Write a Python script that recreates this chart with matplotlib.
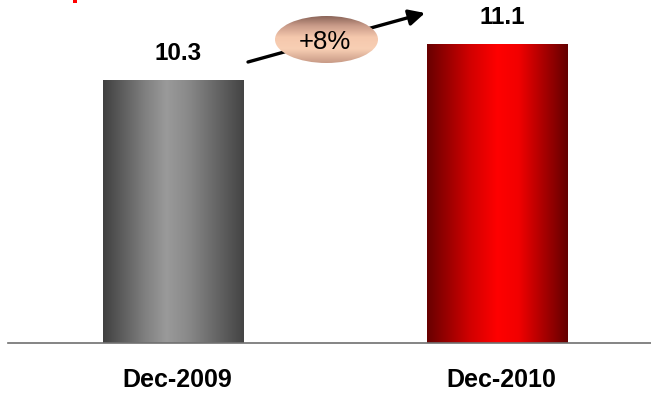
import numpy as np
import matplotlib
matplotlib.use("Agg")
import matplotlib.pyplot as plt
from matplotlib.colors import LinearSegmentedColormap
from matplotlib.patches import Ellipse, Rectangle

# ---- data ----
categories = ["Dec-2009", "Dec-2010"]
values = [10.3, 11.1]
value_labels = ["10.3", "11.1"]
growth_label = "+8%"

plt.rcParams['font.family'] = ['Liberation Sans', 'DejaVu Sans']

W, H = 651, 394
fig = plt.figure(figsize=(W / 100, H / 100), dpi=100)
ax = fig.add_axes([8 / W, 51.3 / H, 643 / W, 342.7 / H])

x = np.arange(len(categories))
bar_w = 0.432
ax.set_xlim(-0.509, 1.475)
ax.set_ylim(4.46, 12.08)

gray_cmap = LinearSegmentedColormap.from_list(
    "g", [(0, "#404040"), (0.3, "#808080"), (0.45, "#9a9a9a"), (0.6, "#8a8a8a"), (1, "#444444")])
red_cmap = LinearSegmentedColormap.from_list(
    "r", [(0, "#680000"), (0.3, "#d00000"), (0.5, "#ff0000"), (0.65, "#f20000"), (1, "#640000")])
cmaps = [gray_cmap, red_cmap]

bars = ax.bar(x, values, width=bar_w, bottom=0, facecolor="none", edgecolor="none")
grad = np.linspace(0, 1, 256).reshape(1, -1)
for b, cm in zip(bars, cmaps):
    x0, w, h = b.get_x(), b.get_width(), b.get_height()
    im = ax.imshow(grad, cmap=cm, aspect="auto", extent=(x0, x0 + w, ax.get_ylim()[0], h),
                   zorder=2, interpolation="bilinear")
    im.set_clip_path(b)

ax.set_xlim(-0.509, 1.475)
ax.set_ylim(4.46, 12.08)

for xi, v, lab in zip(x, values, value_labels):
    ax.annotate(lab, xy=(xi, v), xytext=(3.6, 19.4), textcoords="offset points",
                ha="center", va="center", fontsize=17.5, fontweight="bold", color="black")

for xi, lab in zip(x, categories):
    ax.annotate(lab, xy=(xi, 0), xycoords=("data", "axes fraction"), xytext=(3, -27),
                textcoords="offset points", ha="center", va="center",
                fontsize=18, fontweight="bold", color="black", annotation_clip=False)

for s in ["top", "left", "right"]:
    ax.spines[s].set_visible(False)
ax.spines["bottom"].set_color("#707070")
ax.spines["bottom"].set_linewidth(1.2)
ax.set_xticks([])
ax.set_yticks([])

# arrow
ax.annotate("", xy=(425 / W, 1 - 13 / H), xycoords="figure fraction",
            xytext=(248 / W, 1 - 62 / H), textcoords="figure fraction",
            arrowprops=dict(arrowstyle="-|>", color="black", lw=2.4, mutation_scale=24,
                            shrinkA=0, shrinkB=0), zorder=5)

# ellipse with gradient
ex0, ey0, ew, eh = 275, 16, 103, 47
eax = fig.add_axes([ex0 / W, 1 - (ey0 + eh) / H, ew / W, eh / H])
eax.set_xlim(0, 1)
eax.set_ylim(0, 1)
eax.axis("off")
ell_cmap = LinearSegmentedColormap.from_list(
    "e", [(0, "#c89a86"), (0.3, "#f8cfb4"), (0.55, "#f5c8ad"), (0.8, "#c89a88"), (1, "#8a6458")])
vgrad = np.linspace(0, 1, 256).reshape(-1, 1)
eim = eax.imshow(vgrad, cmap=ell_cmap, aspect="auto", extent=(0, 1, 0, 1), origin="lower",
                 interpolation="bilinear")
ell = Ellipse((0.5, 0.5), 1, 1, transform=eax.transAxes, facecolor="none", edgecolor="none")
eax.add_patch(ell)
eim.set_clip_path(ell)
eax.text(0.485, 0.45, growth_label, ha="center", va="center", fontsize=18.5, color="black",
         transform=eax.transAxes)

# small red mark at top-left
fig.patches.append(Rectangle((73 / W, 1 - 3 / H), 4 / W, 3 / H, transform=fig.transFigure,
                             facecolor="#ff0000", edgecolor="none"))

fig.savefig("out.png", dpi=100)
